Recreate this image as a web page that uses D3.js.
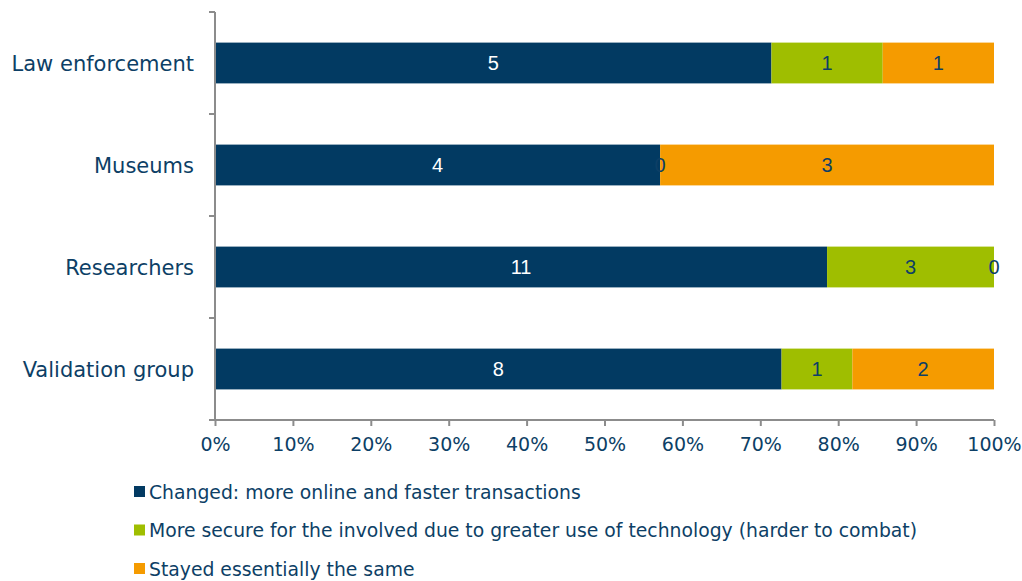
<!DOCTYPE html>
<html>
<head>
<meta charset="utf-8">
<script src="https://cdn.jsdelivr.net/npm/d3@7"></script>
<style>
  body { margin: 0; background: #fff; }
  text { font-family: "DejaVu Sans", Verdana, sans-serif; }
</style>
</head>
<body>
<script>
/* categories, series and values */
var categories = ["Law enforcement", "Museums", "Researchers", "Validation group"];
var seriesNames = [
    "Changed: more online and faster transactions",
    "More secure for the involved due to greater use of technology (harder to combat)",
    "Stayed essentially the same"
];
var changed = [5, 4, 11, 8];
var moreSecure = [1, 0, 3, 1];
var stayedSame = [1, 3, 0, 2];
var tickValues = [0, 0.1, 0.2, 0.3, 0.4, 0.5, 0.6, 0.7, 0.8, 0.9, 1];

var colors = ["#023a62", "#9fbe00", "#f59b00"];
var textColor = "#0d3f66";

var margin = {top: 12, right: 28, bottom: 161, left: 215},
    width = 1022 - margin.left - margin.right,
    height = 581 - margin.top - margin.bottom;

var svg = d3.select("body")
    .append("svg")
    .attr("width", 1022)
    .attr("height", 581)
    .append("g")
    .attr("transform", "translate(" + margin.left + "," + margin.top + ")");

// build rows: each category with its three counts
var rows = categories.map(function(c, i) {
    return {cat: c, vals: [changed[i], moreSecure[i], stayedSame[i]]};
});
rows.forEach(function(r) {
    var total = d3.sum(r.vals), acc = 0;
    r.segs = r.vals.map(function(v, k) {
        var s = {k: k, v: v, x0: acc / total, x1: (acc + v) / total};
        acc += v;
        return s;
    });
});

var xScale = d3.scaleLinear().domain([0, 1]).range([0, width]);
var yScale = d3.scaleBand().domain(categories).range([0, height]).paddingInner(0.6).paddingOuter(0.3);

/* bars */
var row = svg.selectAll(".row")
    .data(rows)
    .enter()
    .append("g")
    .attr("class", "row")
    .attr("transform", function(d) { return "translate(0," + yScale(d.cat) + ")"; });

row.selectAll("rect")
    .data(function(d) { return d.segs; })
    .enter()
    .append("rect")
    .attr("x", function(d) { return xScale(d.x0); })
    .attr("width", function(d) { return xScale(d.x1) - xScale(d.x0); })
    .attr("height", yScale.bandwidth())
    .attr("fill", function(d) { return colors[d.k]; });

row.selectAll("text")
    .data(function(d) { return d.segs; })
    .enter()
    .append("text")
    .attr("x", function(d) { return xScale((d.x0 + d.x1) / 2); })
    .attr("y", yScale.bandwidth() / 2)
    .attr("dy", "0.36em")
    .attr("text-anchor", "middle")
    .style("font-family", "'Liberation Sans', Arial, sans-serif")
    .style("font-size", "20px")
    .attr("fill", function(d) { return d.k === 0 ? "#ffffff" : textColor; })
    .text(function(d) { return d.v; });

/* y axis */
var yAxisG = svg.append("g")
    .attr("class", "y axis");
yAxisG.append("line")
    .attr("x1", 0).attr("x2", 0)
    .attr("y1", 0).attr("y2", height)
    .attr("stroke", "#8c8c8c").attr("stroke-width", 2);
var yTicks = d3.range(categories.length + 1).map(function(i) { return i * height / categories.length; });
yAxisG.selectAll(".tk")
    .data(yTicks)
    .enter()
    .append("line")
    .attr("x1", -6).attr("x2", 0)
    .attr("y1", function(d) { return d; }).attr("y2", function(d) { return d; })
    .attr("stroke", "#8c8c8c").attr("stroke-width", 2);
yAxisG.selectAll(".cat")
    .data(categories)
    .enter()
    .append("text")
    .attr("x", -21)
    .attr("y", function(d) { return yScale(d) + yScale.bandwidth() / 2; })
    .attr("dy", "0.38em")
    .attr("text-anchor", "end")
    .attr("fill", textColor)
    .style("font-size", "21px")
    .text(function(d) { return d; });

/* x axis */
var xAxis = d3.axisBottom(xScale)
    .tickValues(tickValues)
    .tickSize(6)
    .tickPadding(12)
    .tickFormat(d3.format(".0%"));

var xAxisG = svg.append("g")
    .attr("class", "x axis")
    .attr("transform", "translate(0," + height + ")")
    .call(xAxis);
xAxisG.select(".domain")
    .attr("d", "M-6,0H" + width)
    .attr("stroke", "#8c8c8c").attr("stroke-width", 2);
xAxisG.selectAll(".tick line").attr("stroke", "#8c8c8c").attr("stroke-width", 2);
xAxisG.selectAll(".tick text")
    .attr("fill", textColor)
    .style("font-family", "'DejaVu Sans', Verdana, sans-serif")
    .style("font-size", "19px");

/* legend */
var legend = svg.selectAll(".legend")
    .data(seriesNames)
    .enter()
    .append("g")
    .attr("class", "legend")
    .attr("transform", function(d, i) { return "translate(" + (-81) + "," + (480 + i * 38.5) + ")"; });
legend.append("rect")
    .attr("x", 0).attr("y", -6)
    .attr("width", 11).attr("height", 11)
    .attr("fill", function(d, i) { return colors[i]; });
legend.append("text")
    .attr("x", 15)
    .attr("y", 0)
    .attr("dy", "0.35em")
    .attr("fill", textColor)
    .style("font-size", "18.8px")
    .text(function(d) { return d; });
</script>
</body>
</html>
